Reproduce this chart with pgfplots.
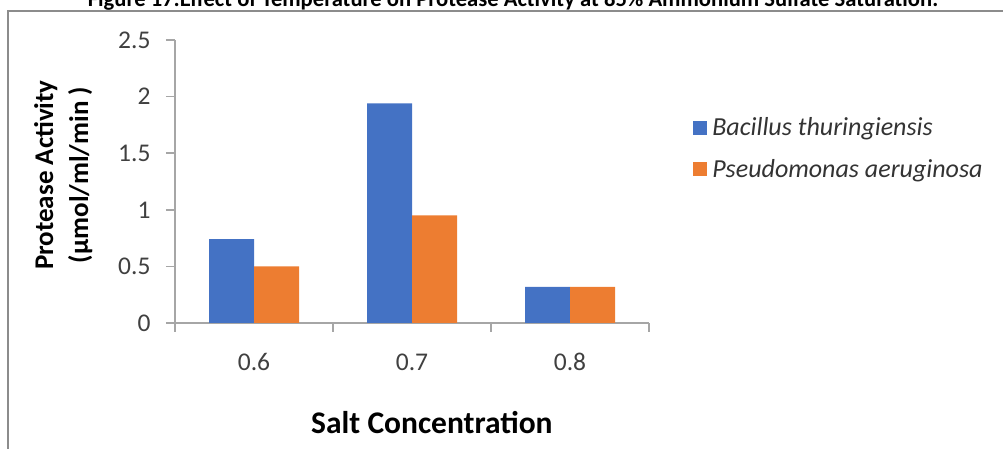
\documentclass[border=0pt]{standalone}
\usepackage{pgfplots}
\pgfplotsset{compat=1.18}
\usepackage{fontspec}
\setmainfont{Carlito}
\definecolor{btblue}{HTML}{4472C4}
\definecolor{paorange}{HTML}{ED7D31}
\definecolor{axisgray}{HTML}{A6A6A6}
\definecolor{framegray}{HTML}{8C8C8C}
\definecolor{ticktext}{HTML}{404040}
\definecolor{legtext}{HTML}{333333}

\begin{document}
\begin{tikzpicture}
\useasboundingbox (0pt,0pt) rectangle (1003pt,449pt);
\clip (0pt,0pt) rectangle (1003pt,449pt);
% outer chart frame
\draw[framegray, line width=1.5pt] (8pt,-10pt) -- (8pt,438pt) -- (1020pt,438pt);
% figure caption above the frame
\node[anchor=base, inner sep=0pt, font=\bfseries\fontsize{22.6}{26}\selectfont] at (513pt,442pt)
  {Figure 17:Effect of Temperature on Protease Activity at 85\% Ammonium Sulfate Saturation.};
\begin{axis}[
  at={(175pt,126pt)}, anchor=south west,
  width=474pt, height=283pt, scale only axis,
  xmin=-0.5, xmax=2.5, ymin=0, ymax=2.5,
  ybar=0pt, bar width=45pt,
  axis x line*=bottom, axis y line*=left,
  axis line style={axisgray, line width=1.5pt, -},
  xtick={0,1,2}, xticklabels={0.6,0.7,0.8},
  minor xtick={-0.5,0.5,1.5,2.5},
  major x tick style={draw=none},
  minor x tick style={axisgray, line width=1.5pt},
  ytick={0,0.5,1,1.5,2,2.5},
  yticklabels={0,0.5,1,1.5,2,2.5},
  y tick style={axisgray, line width=1.5pt},
  tick align=outside,
  major tick length=9pt, minor tick length=9pt,
  ticklabel style={font=\fontsize{25.5}{30}\selectfont, text=ticktext},
  xticklabel style={anchor=center, yshift=-30pt},
  yticklabel style={anchor=east, xshift=-12pt},
  xlabel={Salt Concentration},
  xlabel style={font=\bfseries\fontsize{31.5}{36}\selectfont, anchor=center,
    at={(rel axis cs:0.542,-0.353)}},
  ylabel={Protease Activity\\(µmol/ml/min )},
  ylabel style={font=\bfseries\fontsize{27}{35}\selectfont, align=center,
    anchor=center, at={(rel axis cs:-0.236,0.523)}},
  legend style={at={(rel axis cs:1.093,0.733)}, anchor=north west,
    draw=none, fill=none, inner sep=0pt,
    font=\itshape\fontsize{26}{30}\selectfont, text=legtext,
    row sep=18pt, cells={anchor=west},
    nodes={inner xsep=5pt}},
  legend image code/.code={\fill[#1, draw=none] (0pt,-7pt) rectangle (14pt,7pt);},
  legend cell align=left,
]
\addplot[fill=btblue, draw=none] coordinates {(0,0.74) (1,1.94) (2,0.32)};
\addplot[fill=paorange, draw=none] coordinates {(0,0.50) (1,0.95) (2,0.32)};
\legend{Bacillus thuringiensis, Pseudomonas aeruginosa}
\end{axis}
\end{tikzpicture}
\end{document}
